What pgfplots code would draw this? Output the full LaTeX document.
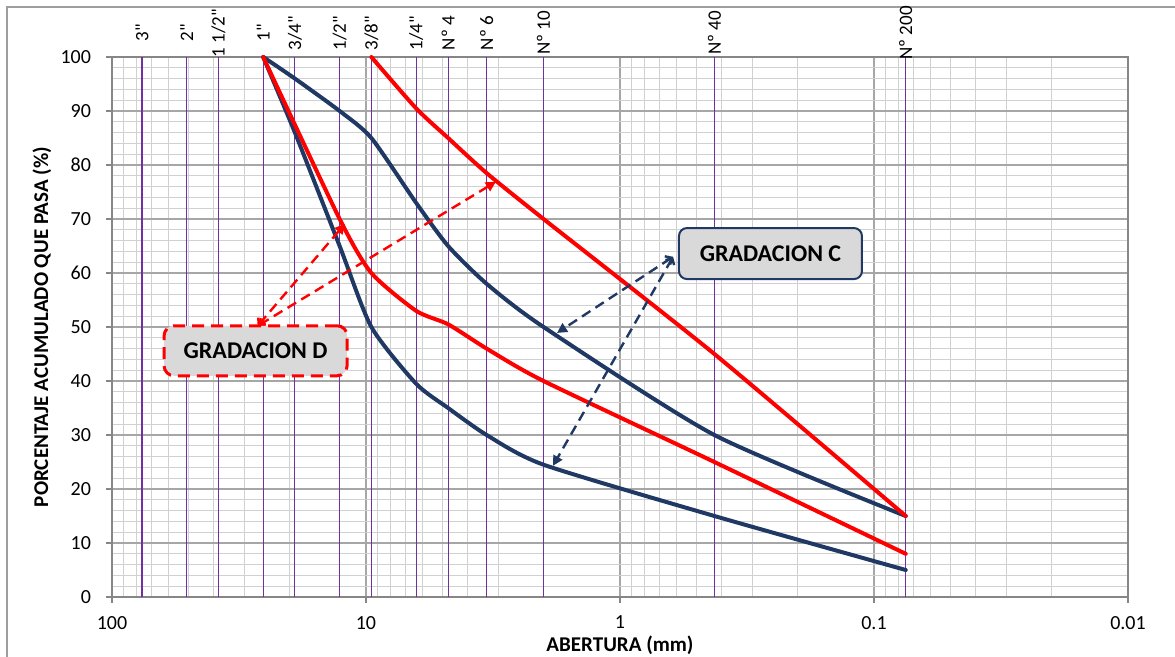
\documentclass[border=0pt]{standalone}
\usepackage{pgfplots}
\pgfplotsset{compat=1.18}
\usepackage{fontspec}
\setmainfont{Carlito}[Ligatures=TeXOff]
\usetikzlibrary{calc,arrows.meta}
\definecolor{navy}{HTML}{203864}
\definecolor{sieve}{HTML}{7030A0}
\definecolor{boxfill}{HTML}{D9D9D9}
\definecolor{axgray}{HTML}{868686}
\definecolor{majgrid}{HTML}{A6A6A6}
\definecolor{mingrid}{HTML}{D0D0D0}
\definecolor{pured}{HTML}{FF0000}
\tikzset{sievelab/.style={yshift=12bp, rotate=90, inner sep=0pt, font=\fontsize{9.5bp}{10bp}\selectfont}}
\begin{document}
\begin{tikzpicture}
\path[use as bounding box] (-56bp,-30bp) rectangle (531.5bp,298.5bp);
\draw[axgray!80, line width=0.8bp] (-52.5bp,-31bp) -- (-52.5bp,295bp) -- (532bp,295bp);
\begin{axis}[name=ax, at={(0,0)}, anchor=south west,
  scale only axis, width=508bp, height=270bp,
  xmode=log, x dir=reverse, xmin=0.01, xmax=100,
  ymin=0, ymax=100, clip=false,
  xtick={0.01,0.1,1,10,100}, xticklabels={0.01,0.1,1,10,100},
  minor xtick={0.02,0.03,0.04,0.05,0.06,0.07,0.08,0.09,0.2,0.3,0.4,0.5,0.6,0.7,0.8,0.9,2,3,4,5,6,7,8,9,20,30,40,50,60,70,80,90},
  ytick={0,10,...,100}, minor y tick num=4,
  grid=both,
  major grid style={majgrid, line width=0.6bp},
  minor grid style={mingrid, line width=0.5bp},
  axis line style={axgray, line width=0.7bp},
  tick pos=left, tick align=outside, major tick length=3bp, minor tick length=0pt,
  tick style={axgray, line width=0.6bp},
  /pgf/number format/assume math mode=true,
  ticklabel style={font=\fontsize{10bp}{12bp}\selectfont},
  xticklabel style={yshift=-3bp},
  yticklabel style={xshift=-4bp},
  xlabel={ABERTURA (mm)},
  ylabel={PORCENTAJE ACUMULADO QUE PASA (\%)},
  label style={font=\bfseries\fontsize{10.5bp}{12bp}\selectfont},
  xlabel style={at={(axis description cs:0.5,-0.0889)}, anchor=center},
  ylabel style={at={(axis description cs:-0.0689,0.5)}, anchor=center},
]
\pgfplotsinvokeforeach{76.2,50.8,38.1,25.4,19.05,12.7,9.525,6.35,4.75,3.35,2.0,0.425,0.075}{
  \addplot[sieve, line width=0.55bp, forget plot] coordinates {(#1,0) (#1,100)};
}
% Gradacion C (blue)
\addplot[navy, line width=2bp, smooth, tension=0.4, line cap=round] coordinates {
 (25.4,100) (19.05,96) (12.7,90) (9.525,85) (6.35,73) (4.75,65) (3.35,58) (2.0,50) (0.425,30) (0.075,15)};
\addplot[navy, line width=2bp, smooth, tension=0.4, line cap=round] coordinates {
 (25.4,100) (19.05,86) (12.7,65) (9.525,50) (6.35,39.5) (4.75,35) (3.35,30) (2.0,24.5) (0.425,15) (0.075,5)};
% Gradacion D (red)
\addplot[pured, line width=2bp, smooth, tension=0.4, line cap=round] coordinates {
 (25.4,100) (12.7,70) (9.525,60) (6.35,53) (4.75,50.5) (3.35,46) (2.0,40) (0.425,25) (0.075,8)};
\addplot[pured, line width=2bp, smooth, tension=0.4, line cap=round] coordinates {
 (9.525,100) (6.35,90.5) (4.75,85) (3.35,78.5) (2.0,70) (0.425,45) (0.075,15)};
% sieve labels
\node[sievelab] at (axis cs:76.2,100) {3"};
\node[sievelab] at (axis cs:50.8,100) {2"};
\node[sievelab] at (axis cs:38.1,100) {1 1/2"};
\node[sievelab] at (axis cs:25.4,100) {1"};
\node[sievelab] at (axis cs:19.05,100) {3/4"};
\node[sievelab] at (axis cs:12.7,100) {1/2"};
\node[sievelab] at (axis cs:9.525,100) {3/8"};
\node[sievelab] at (axis cs:6.35,100) {1/4"};
\node[sievelab] at (axis cs:4.75,100) {Nº 4};
\node[sievelab] at (axis cs:3.35,100) {Nº 6};
\node[sievelab] at (axis cs:2.0,100) {Nº 10};
\node[sievelab] at (axis cs:0.425,100) {Nº 40};
\node[sievelab] at (axis cs:0.075,100) {Nº 200};
% annotations
\draw[navy, line width=1.2bp, dash pattern=on 5bp off 3bp, {Straight Barb[length=2.5bp,width=5bp]}-{Triangle[length=5bp,width=5bp]}] (axis cs:0.618,63) -- (axis cs:1.77,48.9);
\draw[navy, line width=1.2bp, dash pattern=on 5bp off 3bp, {Straight Barb[length=2.5bp,width=5bp]}-{Triangle[length=5bp,width=5bp]}] (axis cs:0.618,63) -- (axis cs:1.836,24.3);
\draw[pured, line width=1.2bp, dash pattern=on 5bp off 3bp, {Straight Barb[length=2.5bp,width=5bp]}-{Triangle[length=5bp,width=5bp]}] (axis cs:26.7,50.2) -- (axis cs:12.1,69.1);
\draw[pured, line width=1.2bp, dash pattern=on 5bp off 3bp, {Straight Barb[length=2.5bp,width=5bp]}-{Triangle[length=5bp,width=5bp]}] (axis cs:26.7,50.2) -- (axis cs:3.08,76.9);
\node[draw=navy, line width=1bp, fill=boxfill, rounded corners=4bp, minimum width=91.5bp, minimum height=25.5bp, inner sep=0pt, font=\bfseries\fontsize{12bp}{14bp}\selectfont] at (axis cs:0.2556,63.6) {GRADACION C};
\node[draw=pured, line width=1.5bp, dash pattern=on 6bp off 3.5bp, fill=boxfill, rounded corners=5bp, minimum width=91.5bp, minimum height=25bp, inner sep=0pt, font=\bfseries\fontsize{12bp}{14bp}\selectfont] at (axis cs:27.2,45.6) {GRADACION D};
\end{axis}
\end{tikzpicture}
\end{document}
